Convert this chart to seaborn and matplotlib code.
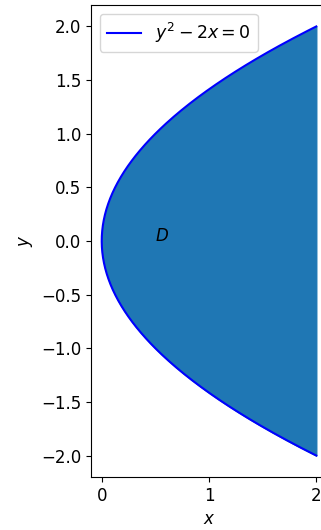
import matplotlib
matplotlib.use('Agg')
import matplotlib.pyplot as plt
import numpy as np
import seaborn as sns

# region D bounded by the parabola y^2 - 2x = 0 and the line x = 2
y_min, y_max = -2, 2
x_right = 2
curve_label = '$y^2 - 2x = 0$'
region_label = '$D$'
region_pos = (0.5, 0)

y = np.linspace(y_min, y_max, 400)
x = y ** 2 / 2

plt.rcParams['font.size'] = 12

fig = plt.figure(figsize=(3.21, 5.30), dpi=100)
ax = fig.add_axes([91 / 321, 53 / 530, 236 / 321, 472 / 530])

ax.fill_betweenx(y, x, x_right, color='C0')
sns.lineplot(x=x, y=y, sort=False, estimator=None, color='blue',
             label=curve_label, ax=ax)
ax.text(region_pos[0], region_pos[1], region_label)

ax.set_xlim(-0.1, 2.1)
ax.set_ylim(-2.2, 2.2)
ax.set_xticks([0, 1, 2])
ax.set_xlabel('$x$')
ax.set_ylabel('$y$')
ax.legend(loc='upper left', fontsize=12.5)

fig.savefig('out.png', dpi=100)
